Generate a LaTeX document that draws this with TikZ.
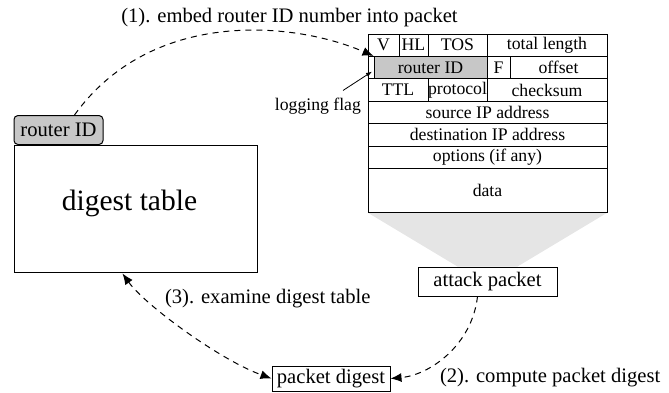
\documentclass[tikz,border=0pt]{standalone}
\usepackage{fontspec}
\setmainfont{Liberation Serif}
\usepackage{tikz}
\usetikzlibrary{arrows.meta,calc,positioning,backgrounds}
\newcommand{\tblfont}{\fontsize{8.85pt}{10pt}\selectfont}
\newcommand{\lblfont}{\fontsize{10.3pt}{12pt}\selectfont}
\newcommand{\hugelbl}{\fontsize{14.75pt}{17pt}\selectfont}
\tikzset{
  cell/.style={draw, line width=0.5pt, inner sep=0pt, minimum height=11.2pt, font=\tblfont},
  box/.style={draw, line width=0.5pt, inner sep=0pt, font=\lblfont},
  flow/.style={line width=0.5pt, dash pattern=on 3pt off 2.5pt, -{Latex[length=5.5pt,width=4.5pt]}},
}

\begin{document}
\begin{tikzpicture}[x=0.5pt,y=-0.5pt]
        \useasboundingbox (0,0) rectangle (669,392);
        % Packet header rows
        \node[cell, minimum width=15.5pt] (ver) at (383.5,45.2) {V};
        \node[cell, minimum width=14.5pt] (hl) at (413.5,45.2) {HL};
        \node[cell, minimum width=29.5pt] (tos) at (457.5,45.2) {TOS};
        \node[cell, minimum width=60pt] (tlen) at (547,45.2) {total length};
        \node[cell, minimum width=3pt] (flag) at (371,67.6) {};
        \node[cell, minimum width=56.5pt, fill=black!22] (rcell) at (430.5,67.6) {router ID};
        \node[cell, minimum width=11.5pt] (frag) at (498.5,67.6) {F};
        \node[cell, minimum width=48.5pt] (off) at (558.5,67.6) {offset};
        \node[cell, minimum width=30pt] (ttl) at (398,90) {TTL};
        \node[cell, minimum width=29.5pt] (proto) at (457.5,90) {protocol};
        \node[cell, minimum width=60pt] (csum) at (547,90) {checksum};
        \node[cell, minimum width=119.5pt] (src) at (487.5,112.4) {source IP address};
        \node[cell, minimum width=119.5pt] (dst) at (487.5,134.8) {destination IP address};
        \node[cell, minimum width=119.5pt] (opt) at (487.5,157.2) {options (if any)};
        \node[cell, minimum width=119.5pt, minimum height=21.8pt] (data) at (487.5,190.2) {data};
        % Draw the funnel under the packet
        \node[box, minimum width=69.5pt, minimum height=14.5pt, fill=white] (attack) at (487.5,281.5) {attack packet};
        \begin{pgfonlayer}{background}
          \fill[black!10] (data.south west) -- (data.south east) -- ($(attack.north)+(30,0)$) -- ($(attack.north)+(-30,0)$) -- cycle;
        \end{pgfonlayer}
        % Router side
        \node[box, minimum width=121.5pt, minimum height=63.5pt] (dtable) at (135.5,208.5) {};
        \node[font=\hugelbl, anchor=base] (dtext) at (129.5,210) {digest table};
        \node[box, rounded corners=2pt, fill=black!22, minimum width=44.5pt, minimum height=14.5pt] (rid) at (58.5,130) {router ID};
        \node[box, minimum width=59pt, minimum height=12.5pt] (pdigest) at (331,378.5) {packet digest};
        % Steps
        \draw[flow] ($(rid.north)+(16,0)$) .. controls (150,10) and (290,20) .. (rcell.north west);
        \draw[flow] ($(attack.south)+(-10,0)$) .. controls (472,345) and (430,375) .. (pdigest.east);
        \coordinate (tbot) at ($(dtable.south west)+(109,1)$);
        \draw[flow, {Latex[length=5.5pt,width=4.5pt]}-{Latex[length=5.5pt,width=4.5pt]}] (tbot) .. controls (145,305) and (220,360) .. (pdigest.west);
        \node[font=\lblfont, anchor=base] (step1) at (289.5,22.5) {(1). embed router ID number into packet};
        \node[font=\lblfont, anchor=base west] (step2) at (433,382) {(2). compute packet digest};
        \node[font=\lblfont, anchor=base west] (step3) at (158,303) {(3). examine digest table};
        % Logging flag
        \node[font=\tblfont, anchor=base east] (logflag) at (368,110) {logging flag};
        \draw[line width=0.4pt, -{Latex[length=3pt,width=2.2pt]}] ($(logflag.north east)+(-25,0)$) -- ($(flag.center)+(1,4)$);
\end{tikzpicture}
\end{document}
